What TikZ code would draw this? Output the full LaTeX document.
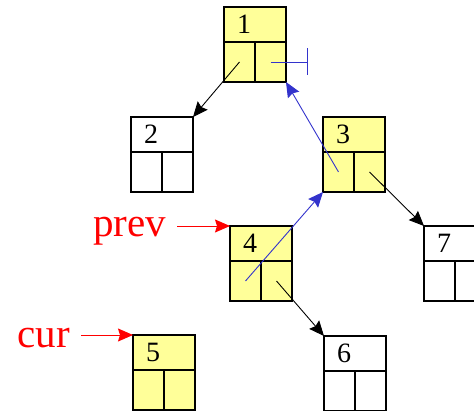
\documentclass[tikz,border=0pt]{standalone}
\usepackage{fontspec}
\setmainfont{Liberation Serif}
\usetikzlibrary{arrows.meta}

\definecolor{nodefill}{RGB}{255,255,153}
\definecolor{linkblue}{RGB}{51,51,204}

\begin{document}
\begin{tikzpicture}[x=1pt, y=-1pt,
    head/.style={draw, line width=1.2pt, outer sep=0pt, anchor=north west, minimum height=35pt, text width=36pt, inner xsep=13pt, inner ysep=0pt, align=left, font=\fontsize{28}{28}\selectfont},
    lcell/.style={draw, line width=1.2pt, outer sep=0pt, anchor=north west, minimum width=31pt, minimum height=40pt, inner sep=0pt},
    rcell/.style={lcell, anchor=north east},
    marked/.style={fill=nodefill},
    link/.style={line width=0.9pt, -{Stealth[length=15pt,width=13pt,inset=2pt]}},
    ptr/.style={text=red, inner xsep=11pt, outer sep=0pt, anchor=base east, font=\fontsize{41}{41}\selectfont}]

    \clip (0,0) rectangle (474,411);

    \node[head, marked] (1) at (224,7) {1};
    \node[lcell, marked] (1l) at (1.south west) {};
    \node[rcell, marked] (1r) at (1.south east) {};

    \node[head] (2) at (131,117) {2};
    \node[lcell] (2l) at (2.south west) {};
    \node[rcell] (2r) at (2.south east) {};

    \node[head, marked] (3) at (323,117) {3};
    \node[lcell, marked] (3l) at (3.south west) {};
    \node[rcell, marked] (3r) at (3.south east) {};

    \node[head, marked] (4) at (230,226) {4};
    \node[lcell, marked] (4l) at (4.south west) {};
    \node[rcell, marked] (4r) at (4.south east) {};

    \node[head, marked] (5) at (133,335) {5};
    \node[lcell, marked] (5l) at (5.south west) {};
    \node[rcell, marked] (5r) at (5.south east) {};

    \node[head] (6) at (324,336) {6};
    \node[lcell] (6l) at (6.south west) {};
    \node[rcell] (6r) at (6.south east) {};

    \node[head] (7) at (424,226) {7};
    \node[lcell] (7l) at (7.south west) {};
    \node[rcell] (7r) at (7.south east) {};

    \node[ptr] (prev) at (177,237) {prev};
    \node[ptr] (cur) at (81,348) {cur};

    \coordinate (1null) at (308,62);

    % child links
    \draw[link] (1l.center) -- (2.north east);
    \draw[link] (3r.center) -- (7.north west);
    \draw[link] (4r.center) -- (6.north west);

    % parent links
    \draw[link, linkblue] (3l.center) -- (1r.south east);
    \draw[link, linkblue] (4l.center) -- (3l.south west);
    \draw[line width=0.9pt, linkblue, -{Bar[width=27pt]}] (1r.center) -- (1null);

    \draw[link, red] (prev.east |- 4.north west) -- (4.north west);
    \draw[link, red] (cur.east |- 5.north west) -- (5.north west);

\end{tikzpicture}
\end{document}
